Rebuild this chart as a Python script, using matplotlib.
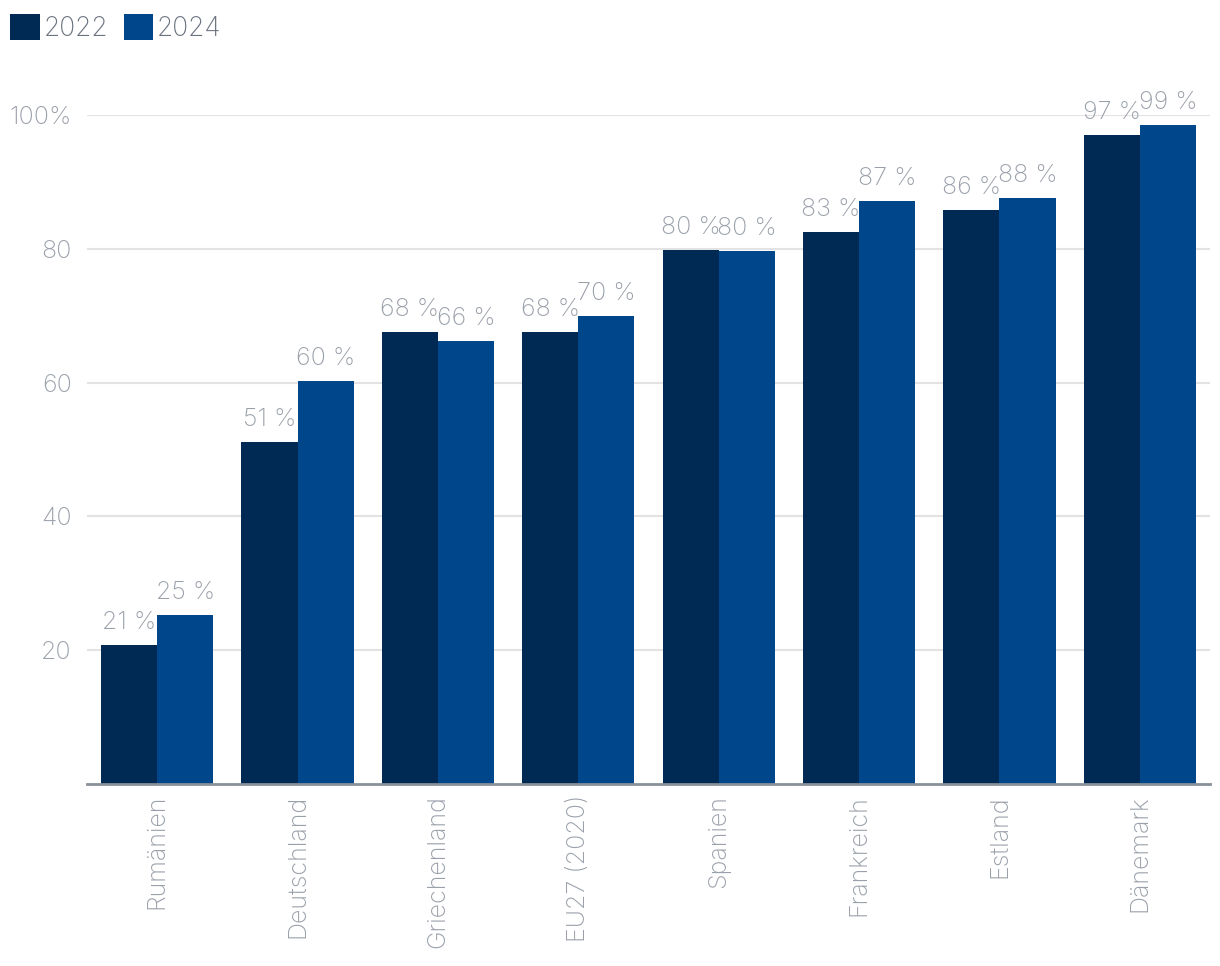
import matplotlib
matplotlib.use("Agg")
import matplotlib.pyplot as plt
import numpy as np

categories = ["Rumänien", "Deutschland", "Griechenland", "EU27 (2020)", "Spanien",
              "Frankreich", "Estland", "Dänemark"]
values_2022 = [20.8, 51.1, 67.6, 67.6, 79.8, 82.5, 85.8, 97.0]
values_2024 = [25.3, 60.2, 66.2, 70.0, 79.7, 87.1, 87.6, 98.5]
labels_2022 = ["21 %", "51 %", "68 %", "68 %", "80 %", "83 %", "86 %", "97 %"]
labels_2024 = ["25 %", "60 %", "66 %", "70 %", "80 %", "87 %", "88 %", "99 %"]
series_names = ["2022", "2024"]
yticks = [20, 40, 60, 80, 100]
ytick_labels = ["20", "40", "60", "80", "100%"]

plt.rcParams['font.family'] = ['Inter', 'DejaVu Sans']
c22 = "#002a54"
c24 = "#00468b"
txt = "#9aa0aa"
fs = 18

fig = plt.figure(figsize=(12.2, 9.66), dpi=100)
ax = fig.add_axes([87/1220, 1-784/966, (1210-87)/1220, (784-115)/966])

x = np.arange(len(categories))
w = 0.4
ax.bar(x - w/2, values_2022, w, color=c22, label=series_names[0])
ax.bar(x + w/2, values_2024, w, color=c24, label=series_names[1])

for xi, v, l in zip(x - w/2, values_2022, labels_2022):
    ax.annotate(l, (xi, v), xytext=(0, 8), textcoords="offset points", ha="center",
                va="bottom", fontsize=fs, color=txt, fontweight="light", annotation_clip=False)
for xi, v, l in zip(x + w/2, values_2024, labels_2024):
    ax.annotate(l, (xi, v), xytext=(0, 8), textcoords="offset points", ha="center",
                va="bottom", fontsize=fs, color=txt, fontweight="light", annotation_clip=False)

ax.set_xlim(-0.5, 7.5)
ax.set_ylim(0, 100)
ax.set_yticks(yticks)
ax.set_yticklabels(ytick_labels, fontsize=fs, color=txt, fontweight="light")
ax.set_xticks(x)
ax.set_xticklabels(categories, rotation=90, fontsize=fs, color=txt, fontweight="light",
                   ha="center", va="top")
ax.tick_params(axis="both", length=0)
ax.tick_params(axis="y", pad=11)
ax.tick_params(axis="x", pad=8)
ax.grid(axis="y", color="#e3e3e3", linewidth=1.5)
ax.set_axisbelow(True)
for s in ["top", "right", "left"]:
    ax.spines[s].set_visible(False)
ax.spines["bottom"].set_color("#8a9099")
ax.spines["bottom"].set_linewidth(2)

leg = fig.legend(loc="upper left", bbox_to_anchor=(-8/1220, 1 + 4/966), ncol=2, frameon=False,
                 fontsize=19, handlelength=1.1, handleheight=1.1, handletextpad=0.15,
                 columnspacing=0.6, borderaxespad=0.3)
for t in leg.get_texts():
    t.set_color("#6b7480")
    t.set_fontweight("light")

fig.savefig("out.png", dpi=100)
